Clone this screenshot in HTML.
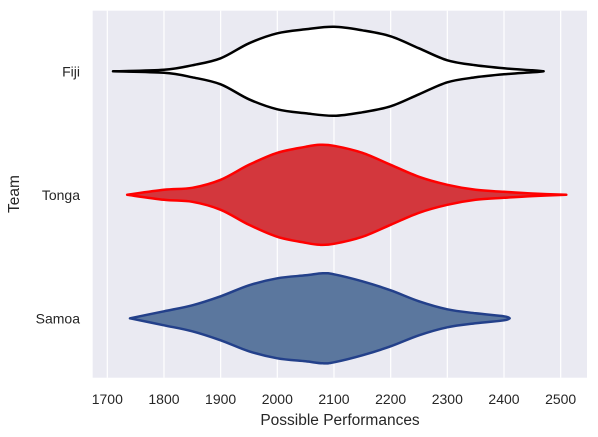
<!DOCTYPE html>
<html><head><meta charset="utf-8"><style>
body{margin:0;background:#fff;}
svg{display:block;font-family:"Liberation Sans",Arial,sans-serif;}
</style></head><body>
<svg id="chart" width="598" height="437" viewBox="0 0 598 437">
<rect x="92.7" y="10.7" width="494.3" height="367" fill="#eaeaf2"/>
<g id="grid"></g>
<g id="violins"></g>
<g id="xticks"></g>
<g id="yticks"></g>
<text x="340" y="425" font-size="15.5" text-anchor="middle" fill="#262626">Possible Performances</text>
<text transform="translate(19,194) rotate(-90)" font-size="15.5" text-anchor="middle" fill="#262626">Team</text>
</svg>
<script>
const teams = ["Fiji","Tonga","Samoa"];
const xTicks = [1700,1800,1900,2000,2100,2200,2300,2400,2500];
const fijiValues = [1710,1800,1850,1900,1950,2000,2050,2100,2150,2200,2250,2300,2350,2400,2450,2470];
const fijiDensity = [0,0.03,0.12,0.26,0.56,0.76,0.84,0.89,0.82,0.70,0.46,0.22,0.12,0.06,0.02,0];
const tongaValues = [1735,1800,1850,1900,1950,2000,2050,2075,2100,2150,2200,2250,2300,2350,2400,2450,2510];
const tongaDensity = [0,0.10,0.14,0.30,0.60,0.84,0.96,1.0,0.98,0.84,0.60,0.36,0.20,0.10,0.06,0.026,0];
const samoaValues = [1740,1800,1850,1900,1950,2000,2050,2080,2100,2150,2200,2250,2300,2350,2400,2410];
const samoaDensity = [0,0.14,0.26,0.44,0.66,0.80,0.86,0.90,0.88,0.74,0.56,0.34,0.18,0.10,0.04,0];
const seriesValues = [fijiValues,tongaValues,samoaValues];
const seriesDensity = [fijiDensity,tongaDensity,samoaDensity];
const fills = ["#ffffff","#d3373d","#5b779e"];
const strokes = ["#000000","#ff0000","#23408a"];
const NS="http://www.w3.org/2000/svg";
function xScale(v){return 107.3+(v-1700)*0.5667;}
function yScale(i){return 71.3+i*123.5;}
const halfMax=50;
function mk(tag,attrs,parent){const e=document.createElementNS(NS,tag);for(const k in attrs)e.setAttribute(k,attrs[k]);parent.appendChild(e);return e;}
function smooth(pts){
  let d="M"+pts[0][0]+","+pts[0][1];
  for(let i=0;i<pts.length-1;i++){
    const p0=pts[Math.max(0,i-1)],p1=pts[i],p2=pts[i+1],p3=pts[Math.min(pts.length-1,i+2)];
    const c1=[p1[0]+(p2[0]-p0[0])/6,p1[1]+(p2[1]-p0[1])/6];
    const c2=[p2[0]-(p3[0]-p1[0])/6,p2[1]-(p3[1]-p1[1])/6];
    d+=" C"+c1[0]+","+c1[1]+" "+c2[0]+","+c2[1]+" "+p2[0]+","+p2[1];
  }
  return d;
}
const grid=document.getElementById('grid'),xt=document.getElementById('xticks'),yt=document.getElementById('yticks'),vg=document.getElementById('violins');
xTicks.forEach(t=>{
  const l=mk('line',{x1:xScale(t),x2:xScale(t),y1:10.7,y2:377.7,stroke:"#ffffff","stroke-width":1.2},grid);
  
  
  const tx=mk('text',{x:xScale(t),y:404,"font-size":14,"text-anchor":"middle",fill:"#262626"},xt);
  tx.textContent=t;
  
  
});
teams.forEach((name,i)=>{
  const tx=mk('text',{x:80,y:yScale(i)+5,"font-size":14,"text-anchor":"end",fill:"#262626"},yt);
  tx.textContent=name;
  
  
  const vals=seriesValues[i],dens=seriesDensity[i],cy=yScale(i);
  const top=vals.map((v,j)=>[xScale(v),cy-dens[j]*halfMax]);
  const bot=vals.map((v,j)=>[xScale(v),cy+dens[j]*halfMax]).reverse();
  let d=smooth(top)+" L"+bot[0][0]+","+bot[0][1]+smooth(bot).replace(/^M[^ ]+/,"")+" Z";
  const p=mk('path',{d:d,fill:fills[i],stroke:strokes[i],"stroke-width":2.5,"stroke-linejoin":"round"},vg);
  
  
});
</script>
</body></html>
